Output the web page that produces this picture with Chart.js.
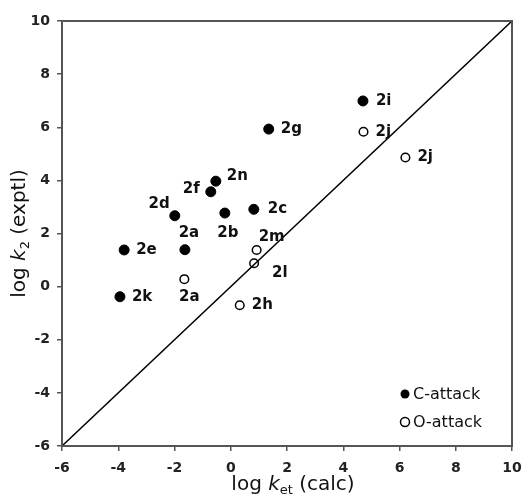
<!DOCTYPE html>
<html><head><meta charset="utf-8">
<script src="https://cdn.jsdelivr.net/npm/chart.js@4/dist/chart.umd.min.js"></script>
<style>html,body{margin:0;padding:0;background:#fff}#wrap{width:526px;height:497px;position:relative}</style>
</head><body><div id="wrap"><canvas id="c" width="526" height="497"></canvas></div>
<script>
// ---- data ----
const cLabels = ['2i','2g','2n','2f','2d','2b','2c','2e','2a','2k'];
const cX = [4.70, 1.35, -0.53, -0.71, -1.99, -0.21, 0.82, -3.79, -1.63, -3.94];
const cY = [6.99, 5.93, 3.97, 3.57, 2.67, 2.77, 2.91, 1.38, 1.39, -0.38];
const oLabels = ['2j','2j','2m','2l','2a','2h'];
const oX = [4.72, 6.21, 0.92, 0.83, -1.65, 0.32];
const oY = [5.83, 4.86, 1.38, 0.88, 0.28, -0.70];
const lineX = [-6, 10];
const lineY = [-6, 10];
const axisTicks = [-6, -4, -2, 0, 2, 4, 6, 8, 10];
const seriesNames = ['C-attack', 'O-attack'];

// ---- label placement (dx, dy, align) ----
const cPlace = {2:[11,-5,'left'],3:[-11,-3,'right'],4:[-5,-12,'right'],5:[3,20,'center'],8:[4,-17,'center'],0:[13,0,'left'],6:[14,0,'left']};
const oPlace = {2:[2,-13,'left'],3:[18,10,'left'],4:[5,18,'center']};

const FONT = '"DejaVu Sans", Verdana, sans-serif';

function drawRich(ctx, parts) {
  let w = 0;
  parts.forEach(p => { ctx.font = p.f; p.w = ctx.measureText(p.t).width; w += p.w; });
  let x = -w / 2;
  parts.forEach(p => { ctx.font = p.f; ctx.fillText(p.t, x, p.dy || 0); x += p.w; });
}

const decor = {
  id: 'decor',
  afterDatasetsDraw(chart) {
    const ctx = chart.ctx, a = chart.chartArea;
    ctx.save();
    // frame
    ctx.strokeStyle = '#555'; ctx.lineWidth = 2;
    ctx.strokeRect(a.left, a.top, a.right - a.left, a.bottom - a.top);
    // point labels
    ctx.font = 'bold 15px ' + FONT;
    ctx.fillStyle = '#111';
    ctx.textBaseline = 'middle';
    [[0, cLabels, cPlace], [1, oLabels, oPlace]].forEach(([di, labels, place]) => {
      chart.getDatasetMeta(di).data.forEach((el, i) => {
        const p = place[i] || [12, 0, 'left'];
        ctx.textAlign = p[2];
        ctx.fillText(labels[i], el.x + p[0], el.y + p[1]);
      });
    });
    // legend
    ctx.textAlign = 'left';
    ctx.font = '16px ' + FONT;
    const lx = a.right - 107, ly = a.bottom - 52;
    [0, 1].forEach(i => {
      const y = ly + i * 28;
      ctx.beginPath();
      ctx.arc(lx, y, 4.5, 0, Math.PI * 2);
      if (i === 0) { ctx.fillStyle = '#000'; ctx.fill(); }
      else { ctx.strokeStyle = '#000'; ctx.lineWidth = 1.5; ctx.stroke(); }
      ctx.fillStyle = '#111';
      ctx.fillText(seriesNames[i], lx + 8, y + 1);
    });
    // axis titles
    ctx.fillStyle = '#111';
    ctx.textBaseline = 'alphabetic';
    ctx.textAlign = 'left';
    ctx.save();
    ctx.translate((a.left + a.right) / 2 + 6, 490);
    drawRich(ctx, [
      {t: 'log ', f: '20px ' + FONT},
      {t: 'k', f: 'italic 20px ' + FONT},
      {t: 'et', f: '13px ' + FONT, dy: 4},
      {t: ' (calc)', f: '20px ' + FONT}
    ]);
    ctx.restore();
    ctx.save();
    ctx.translate(25, (a.top + a.bottom) / 2);
    ctx.rotate(-Math.PI / 2);
    drawRich(ctx, [
      {t: 'log ', f: '20px ' + FONT},
      {t: 'k', f: 'italic 20px ' + FONT},
      {t: '2', f: '13px ' + FONT, dy: 4},
      {t: ' (exptl)', f: '20px ' + FONT}
    ]);
    ctx.restore();
    ctx.restore();
  }
};

function axisCfg(isX) {
  return {
    type: 'linear', min: -6, max: 10,
    afterBuildTicks: s => { s.ticks = axisTicks.map(v => ({value: v})); },
    grid: {drawOnChartArea: false, drawTicks: true, tickLength: 5, color: '#555', lineWidth: 1.5},
    border: {display: true, color: '#555', width: 2},
    ticks: {font: {family: FONT, size: 14, weight: 'bold'}, color: '#222', padding: isX ? 9 : 7, maxRotation: 0, autoSkip: false},
    afterFit: s => {
      if (isX) { s.height = 51; s.paddingLeft = 0; s.paddingRight = 0; }
      else { s.width = 62; s.paddingTop = 0; s.paddingBottom = 0; }
    }
  };
}

new Chart(document.getElementById('c'), {
  type: 'scatter',
  data: {
    datasets: [
      {label: seriesNames[0], data: cX.map((x, i) => ({x, y: cY[i]})), pointRadius: 5, pointBackgroundColor: '#000', pointBorderColor: '#000', pointBorderWidth: 1},
      {label: seriesNames[1], data: oX.map((x, i) => ({x, y: oY[i]})), pointRadius: 4.3, pointBackgroundColor: 'rgba(255,255,255,0)', pointBorderColor: '#000', pointBorderWidth: 1.5},
      {type: 'line', label: 'y = x', data: lineX.map((x, i) => ({x, y: lineY[i]})), borderColor: '#000', borderWidth: 1.5, pointRadius: 0, fill: false}
    ]
  },
  options: {
    responsive: false, animation: false, devicePixelRatio: 1,
    layout: {padding: {top: 21, right: 14, left: 0, bottom: 0}},
    plugins: {legend: {display: false}, tooltip: {enabled: false}},
    scales: {x: axisCfg(true), y: axisCfg(false)}
  },
  plugins: [decor]
});
</script></body></html>
